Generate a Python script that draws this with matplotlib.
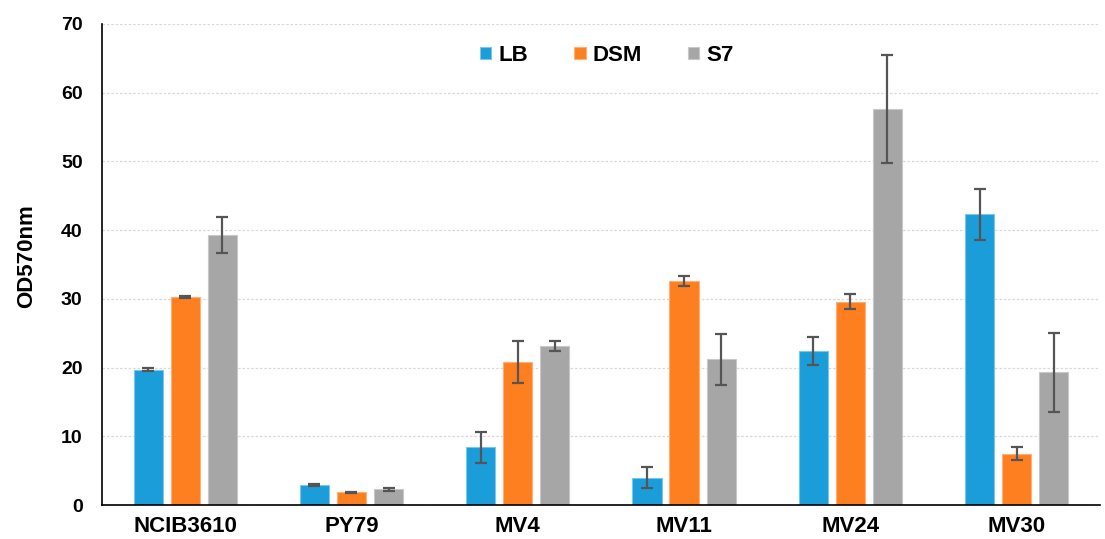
import matplotlib
matplotlib.use("Agg")
import matplotlib.pyplot as plt
import numpy as np

plt.rcParams['font.family'] = ['Liberation Sans', 'DejaVu Sans']

strains = ["NCIB3610", "PY79", "MV4", "MV11", "MV24", "MV30"]
media = ["LB", "DSM", "S7"]

lb_mean = [19.7, 2.9, 8.4, 4.0, 22.4, 42.3]
lb_err = [0.2, 0.2, 2.25, 1.5, 2.0, 3.75]
dsm_mean = [30.3, 1.85, 20.8, 32.6, 29.6, 7.5]
dsm_err = [0.1, 0.1, 3.1, 0.75, 1.05, 0.9]
s7_mean = [39.3, 2.3, 23.1, 21.2, 57.6, 19.3]
s7_err = [2.6, 0.25, 0.7, 3.75, 7.85, 5.8]

colors = ["#1A9DD8", "#FE7F1F", "#A6A6A6"]
edges = ["#7CC6EC", "#FFB07A", "#C8C8C8"]

fig = plt.figure(figsize=(11.05, 5.39), dpi=100)
ax = fig.add_axes([0.0923, 0.063, 0.903, 0.8925])

x = np.arange(len(strains))
offsets = [-0.223, 0.0, 0.223]
width = 0.175
for means, errs, col, ec, off, name in zip(
        [lb_mean, dsm_mean, s7_mean], [lb_err, dsm_err, s7_err],
        colors, edges, offsets, media):
    ax.bar(x + off, means, width, color=col, edgecolor=ec, linewidth=0.8,
           label=name, zorder=2)
    ax.errorbar(x + off, means, yerr=errs, fmt='none', ecolor="#555555",
                elinewidth=1.6, capsize=4.5, capthick=1.6, zorder=3)

ax.set_xlim(-0.5, len(strains) - 0.5)
ax.set_ylim(0, 70)
ax.set_yticks(np.arange(0, 71, 10))
ax.yaxis.grid(True, linestyle=(0, (2, 1.5)), color="#D9D9D9", linewidth=0.9, zorder=0)
ax.set_axisbelow(True)
ax.set_xticks(x)
ax.set_xticklabels(strains, fontsize=16, fontweight='bold')
for lab in ax.get_yticklabels():
    lab.set_fontsize(14)
    lab.set_fontweight('bold')
ax.tick_params(axis='x', length=0, pad=8)
ax.tick_params(axis='y', length=0, pad=14)
ax.set_ylabel("OD570nm", fontsize=16, fontweight='bold', labelpad=17, y=0.517)

for side in ["top", "right"]:
    ax.spines[side].set_visible(False)
ax.spines["left"].set_color("#000000")
ax.spines["bottom"].set_color("#000000")
ax.spines["left"].set_linewidth(1.2)
ax.spines["bottom"].set_linewidth(1.2)

handles, labels = ax.get_legend_handles_labels()
leg = ax.legend(handles, labels, loc='center', bbox_to_anchor=(0.506, 0.935),
                ncol=3, frameon=False, handlelength=0.5, handleheight=0.5,
                handletextpad=0.3, columnspacing=2.1,
                prop={'size': 16, 'weight': 'bold'})

fig.savefig("out.png", dpi=100, facecolor="white")
